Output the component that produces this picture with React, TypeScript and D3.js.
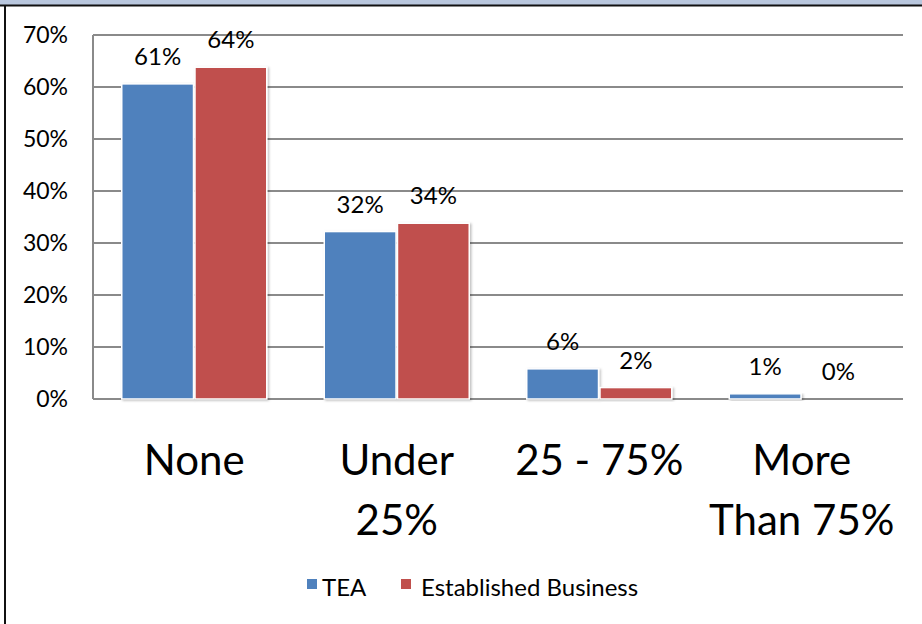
import React from "react";
import * as d3 from "d3";

const categories = ["None", "Under 25%", "25 - 75%", "More Than 75%"];
const categoryLines = [["None"], ["Under", "25%"], ["25 - 75%"], ["More", "Than 75%"]];
const seriesNames = ["TEA", "Established Business"];
const teaValues = [60.6, 32.2, 5.8, 1.0];
const establishedValues = [63.8, 33.8, 2.2, 0];
const teaLabels = ["61%", "32%", "6%", "1%"];
const establishedLabels = ["64%", "34%", "2%", "0%"];
const yTicks = [0, 10, 20, 30, 40, 50, 60, 70];
const colors = ["#4F81BD", "#C0504D"];

const W = 922, H = 624;
const plot = { left: 93, right: 903, top: 35, bottom: 399 };
const FONT = "Lato, 'Open Sans', sans-serif";

export default function App() {
  const x = d3.scaleBand().domain(categories).range([plot.left, plot.right]).paddingInner(0).paddingOuter(0);
  const y = d3.scaleLinear().domain([0, 70]).range([plot.bottom, plot.top]);
  const groupPad = 0.142;
  const xs = d3.scaleBand().domain(seriesNames).range([x.bandwidth() * groupPad, x.bandwidth() * (1 - groupPad)]).paddingInner(0.02);
  const series = [
    { name: seriesNames[0], values: teaValues, labels: teaLabels },
    { name: seriesNames[1], values: establishedValues, labels: establishedLabels },
  ];
  return (
    <svg width={W} height={H} style={{ position: "absolute", left: 0, top: 0, background: "#fff" }} fontFamily={FONT}>
      <defs>
        <filter id="sh" x="-10%" y="-10%" width="130%" height="130%">
          <feDropShadow dx="1.5" dy="1" stdDeviation="1.2" floodColor="#000" floodOpacity="0.25" />
        </filter>
      </defs>
      <rect x={0} y={0} width={W} height={5} fill="#B9C7DE" />
      <line x1={0} x2={W} y1={5.5} y2={5.5} stroke="#111" strokeWidth={2} />
      <line x1={5} x2={5} y1={5} y2={H} stroke="#111" strokeWidth={2} />
      {yTicks.map((t) => (
        <g key={t}>
          <line x1={plot.left} x2={plot.right} y1={y(t)} y2={y(t)} stroke="#8a8a8a" strokeWidth={2} />
          <text x={68} y={y(t) + 8} textAnchor="end" fontSize={23} fill="#000">{t}%</text>
        </g>
      ))}
      <line x1={plot.left} x2={plot.left} y1={plot.top} y2={plot.bottom} stroke="#8a8a8a" strokeWidth={2} />
      {series.map((s, si) => (
        <g key={s.name}>
          {categories.map((c, ci) => {
            const bx = (x(c) as number) + (xs(s.name) as number);
            const by = y(s.values[ci]);
            const h = plot.bottom - by;
            return (
              <g key={c}>
                {h > 0 && (
                  <rect x={bx} y={by} width={xs.bandwidth()} height={h} fill={colors[si]} stroke="#fff" strokeWidth={1.5} filter="url(#sh)" />
                )}
                <text x={bx + xs.bandwidth() / 2} y={by - 19} textAnchor="middle" fontSize={24} fill="#000">{s.labels[ci]}</text>
              </g>
            );
          })}
        </g>
      ))}
      {categories.map((c, ci) => (
        <text key={c} textAnchor="middle" fontSize={42} fill="#000">
          {categoryLines[ci].map((ln, li) => (
            <tspan key={li} x={(x(c) as number) + x.bandwidth() / 2} y={475 + li * 60}>{ln}</tspan>
          ))}
        </text>
      ))}
      <g>
        <rect x={307} y={579} width={10} height={10} fill={colors[0]} />
        <text x={322} y={596} fontSize={24} fill="#000">{seriesNames[0]}</text>
        <rect x={401} y={579} width={10} height={10} fill={colors[1]} />
        <text x={421} y={596} fontSize={24} fill="#000">{seriesNames[1]}</text>
      </g>
    </svg>
  );
}
